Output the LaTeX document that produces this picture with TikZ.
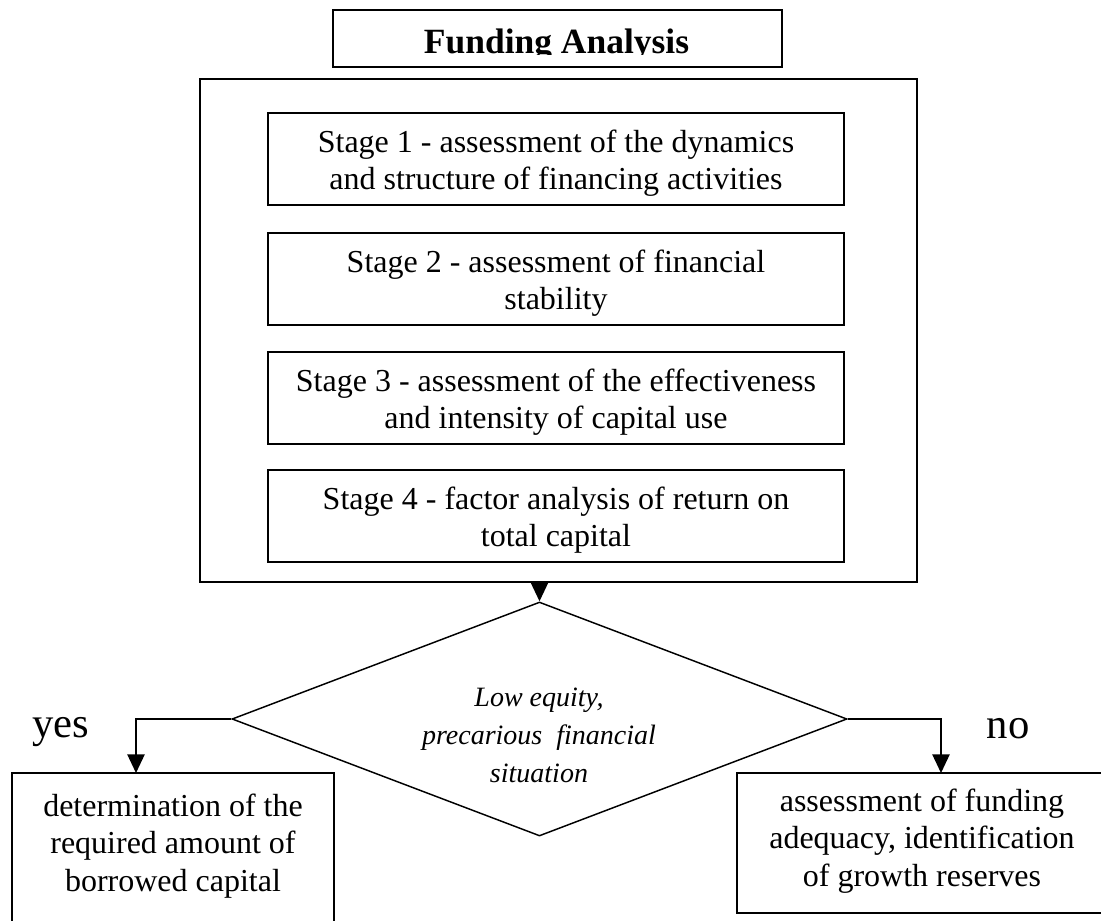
\documentclass[tikz,border=0pt]{standalone}
\usepackage{fontspec}
\setmainfont{Liberation Serif}
\usetikzlibrary{shapes.geometric,arrows.meta}
\begin{document}
\begin{tikzpicture}[x=0.75pt,y=-0.75pt,
  box/.style={draw, line width=1.1pt, inner sep=0pt, align=center},
  stagebox/.style={box, minimum width=432pt, minimum height=69pt},
  stagetext/.style={align=center, inner sep=0pt, yshift=-3pt, font=\fontsize{24}{27.75}\selectfont},
  resbox/.style={box},
  restext/.style={align=center, inner sep=0pt, font=\fontsize{24}{28}\selectfont},
  answer/.style={anchor=base, inner sep=0pt, font=\fontsize{32}{36}\selectfont},
  arr/.style={line width=1.1pt, -{Triangle[length=14pt,width=13pt]}},
  ]
\useasboundingbox (0,0) rectangle (1101,921);
\clip (0,0) rectangle (1101,921);
% title
\node[box, minimum width=336.75pt, minimum height=42.75pt] (title) at (557.5,38.5) {};
\begin{scope}
  \clip (333,10) rectangle (782,54.5);
  \node[anchor=base, inner sep=0pt, font=\bfseries\fontsize{26.6}{30}\selectfont] (ttext) at (556.5,53) {Funding Analysis};
\end{scope}
% outer frame
\node[box, minimum width=537.75pt, minimum height=377.25pt] (outer) at (558.5,330.5) {};
% stages
\node[stagebox, label={[stagetext]center:Stage 1 - assessment of the dynamics\\and structure of financing activities}] (s1) at (556,159) {};
\node[stagebox, label={[stagetext]center:Stage 2 - assessment of financial\\stability}] (s2) at (556,279) {};
\node[stagebox, label={[stagetext]center:Stage 3 - assessment of the effectiveness\\and intensity of capital use}] (s3) at (556,398) {};
\node[stagebox, label={[stagetext]center:Stage 4 - factor analysis of return on\\total capital}] (s4) at (556,516) {};
% decision
\node[draw, line width=1.1pt, diamond, inner sep=0pt, minimum width=461.25pt, minimum height=175.5pt] (dia) at (539.5,719) {};
\node[align=center, inner sep=0pt, font=\itshape\fontsize{21}{28.5}\selectfont] (dtext) at (539,735) {Low equity,\\precarious\ \ financial\\situation};
% results
\node[resbox, minimum width=241.5pt, minimum height=121.5pt] (left) at (173,854) {};
\node[restext] (ltext) at (173,846) {determination of the\\required amount of\\borrowed capital};
\node[resbox, minimum width=277.5pt, minimum height=105pt] (right) at (922,843) {};
\node[restext] (rtext) at (922,841) {assessment of funding\\adequacy, identification\\of growth reserves};
\coordinate (yl) at (136,773);
\coordinate (nr) at (941,773);
\node[answer] (yes) at (61,737) {yes};
\node[answer] (no) at (1008,738) {no};
% connectors
\draw[arr] (dia.north |- outer.south) -- (dia.north);
\draw[arr] (dia.west) -| (yl);
\draw[arr] (dia.east) -| (nr);
\end{tikzpicture}
\end{document}
